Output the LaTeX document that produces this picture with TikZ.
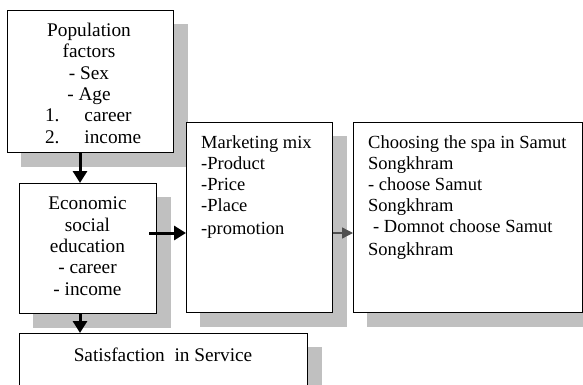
\documentclass[tikz,border=0pt]{standalone}
\usepackage{fontspec}
\setmainfont{Liberation Serif}
\usetikzlibrary{arrows.meta}
\definecolor{shadowc}{RGB}{192,192,192}
\definecolor{arrowgray}{RGB}{80,80,80}
\tikzset{
  box/.style={draw=black, fill=white, line width=1.3pt, inner sep=0pt, anchor=north west},
  txtbig/.style={inner sep=0pt, font=\fontsize{19.3pt}{21.3pt}\selectfont},
  txtsmall/.style={inner sep=0pt, font=\fontsize{18.5pt}{21pt}\selectfont, align=left, anchor=north west},
  thickarrow/.style={line width=3pt, -{Triangle[width=14pt,length=12pt]}},
  grayarrow/.style={draw=arrowgray, line width=1.3pt, -{Triangle[width=11pt,length=11pt]}, color=arrowgray},
}
\begin{document}
\begin{tikzpicture}[x=1pt,y=-1pt]
\useasboundingbox (0,0) rectangle (583,385);
\clip (0,0) rectangle (583,385);
% boxes (invisible placement first for shadows)
\path (7,10) node[box, draw=none, fill=none, minimum width=166pt, minimum height=142pt] (pop0) {};
\path (19,183) node[box, draw=none, fill=none, minimum width=137pt, minimum height=130pt] (eco0) {};
\path (186,122) node[box, draw=none, fill=none, minimum width=146pt, minimum height=190pt] (mkt0) {};
\path (353,122) node[box, draw=none, fill=none, minimum width=229pt, minimum height=190pt] (cho0) {};
\path (19,333) node[box, draw=none, fill=none, minimum width=288pt, minimum height=80pt] (sat0) {};
% shadows
\foreach \n in {pop0,eco0,mkt0,cho0,sat0}{
  \fill[shadowc] ([shift={(14,14)}]\n.south west) rectangle ([shift={(14,14)}]\n.north east);
}
% boxes
\node[box, minimum width=166pt, minimum height=142pt] (pop) at (7,10) {};
\node[box, minimum width=137pt, minimum height=130pt] (eco) at (19,183) {};
\node[box, minimum width=146pt, minimum height=190pt] (mkt) at (186,122) {};
\node[box, minimum width=229pt, minimum height=190pt] (cho) at (353,122) {};
\node[box, minimum width=288pt, minimum height=80pt] (sat) at (19,333) {};
% texts
\node[txtbig, align=center, anchor=north] (t1) at (89,23)
  {Population\\factors\\- Sex\\- Age\\
   \makebox[108pt][l]{\hspace{10pt}1.\hspace{25pt}career}\\
   \makebox[108pt][l]{\hspace{10pt}2.\hspace{25pt}income}};
\node[txtbig, align=center, anchor=north] (t2) at (87.5,197)
  {Economic\\social\\education\\- career\\- income};
\node[txtsmall] (t3) at (201,135)
  {Marketing mix\\-Product\\-Price\\-Place\\[2pt]-promotion};
\node[txtsmall] (t4) at (368,135)
  {Choosing the spa in Samut\\Songkhram\\- choose Samut\\Songkhram\\\hspace*{5pt}- Domnot choose Samut\\[2pt]Songkhram};
\node[txtbig, anchor=north] (t5) at (163,348) {Satisfaction\ \ in Service};
% connectors
\draw[thickarrow] (pop.south -| 80,0) -- (eco.north -| 80,0);
\draw[thickarrow] ([xshift=-8pt]eco.east |- 0,233) -- (mkt.west |- 0,233);
\draw[grayarrow] (mkt.east |- 0,233) -- (cho.west |- 0,233);
\draw[thickarrow] (eco.south -| 80,0) -- (sat.north -| 80,0);
\end{tikzpicture}
\end{document}
